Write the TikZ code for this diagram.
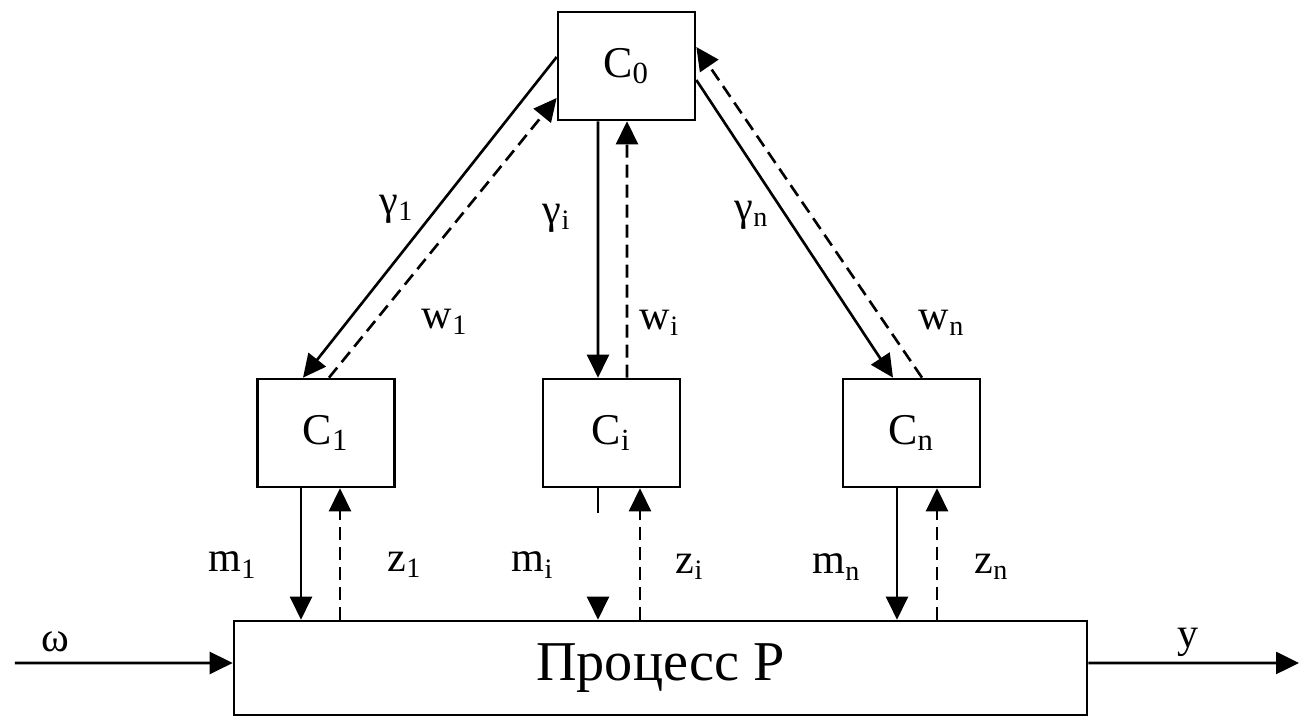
\documentclass[tikz,border=0pt]{standalone}
\usepackage{fontspec}
\setmainfont{Liberation Serif}
\usetikzlibrary{arrows.meta}

\begin{document}
\begin{tikzpicture}[line width=0.75pt,
  ctl/.style={draw, inner sep=0pt, minimum width=1.37cm, minimum height=1.08cm,
        font=\fontsize{12.5}{14}\selectfont},
  proc/.style={draw, inner sep=0pt, minimum width=8.53cm, minimum height=0.94cm,
        font=\fontsize{16}{18}\selectfont},
  lab/.style={inner sep=1pt, font=\fontsize{12}{14}\selectfont},
  sig/.style={-{Triangle[length=0.23cm, width=0.22cm]}},
  fb/.style={sig, dash pattern=on 0.13cm off 0.07cm},
]
  \useasboundingbox (0,0) rectangle (13.01,-7.17);
  % blocks
  \node[ctl] (c0) at (6.265,-0.66) {C\textsubscript{0}};
  \node[ctl] (c1) at (3.26,-4.33) {C\textsubscript{1}};
  \node[ctl] (ci) at (6.115,-4.33) {C\textsubscript{i}};
  \node[ctl] (cn) at (9.115,-4.33) {C\textsubscript{n}};
  \node[proc] (p) at (6.605,-6.68) {Процесс P};
  \coordinate (win) at (0.15,-6.63);
  \coordinate (yout) at (12.99,-6.63);
  % upper level: tasks down, reports up
  \draw[sig] ([yshift=0.09cm]c0.west) -- ([xshift=-0.23cm]c1.north);
  \draw[fb] ([xshift=0.03cm]c1.north) -- ([yshift=-0.32cm]c0.west);
  \draw[sig] ([xshift=-0.285cm]c0.south) -- ([xshift=-0.135cm]ci.north);
  \draw[fb] ([xshift=0.155cm]ci.north) -- ([xshift=0.005cm]c0.south);
  \draw[sig] ([yshift=-0.14cm]c0.east) -- ([xshift=-0.185cm]cn.north);
  \draw[fb] ([xshift=0.105cm]cn.north) -- ([yshift=0.19cm]c0.east);
  % lower level: controls and measurements
  \draw[sig] ([xshift=-0.25cm]c1.south) -- ([xshift=-0.25cm]c1.south |- p.north);
  \draw[fb] ([xshift=0.14cm]c1.south |- p.north) -- ([xshift=0.14cm]c1.south);
  \draw[sig, dash pattern=on 0.25cm off 2cm] ([xshift=-0.135cm]ci.south) -- ([xshift=-0.135cm]ci.south |- p.north);
  \draw[fb] ([xshift=0.285cm]ci.south |- p.north) -- ([xshift=0.285cm]ci.south);
  \draw[sig] ([xshift=-0.145cm]cn.south) -- ([xshift=-0.145cm]cn.south |- p.north);
  \draw[fb] ([xshift=0.255cm]cn.south |- p.north) -- ([xshift=0.255cm]cn.south);
  % input and output
  \draw[sig] (win) -- ([yshift=0.05cm]p.west);
  \draw[sig] ([yshift=0.05cm]p.east) -- (yout);
  % labels
  \node[lab] (g1) at (3.97,-2.09) {γ\textsubscript{1}};
  \node[lab] (gi) at (5.57,-2.18) {γ\textsubscript{i}};
  \node[lab] (gn) at (7.52,-2.15) {γ\textsubscript{n}};
  \node[lab] (w1) at (4.45,-3.22) {w\textsubscript{1}};
  \node[lab] (wi) at (6.60,-3.23) {w\textsubscript{i}};
  \node[lab] (wn) at (9.42,-3.23) {w\textsubscript{n}};
  \node[lab] (m1) at (2.33,-5.65) {m\textsubscript{1}};
  \node[lab] (z1) at (4.05,-5.65) {z\textsubscript{1}};
  \node[lab] (mi) at (5.33,-5.65) {m\textsubscript{i}};
  \node[lab] (zi) at (6.90,-5.67) {z\textsubscript{i}};
  \node[lab] (mn) at (8.37,-5.67) {m\textsubscript{n}};
  \node[lab] (zn) at (9.92,-5.67) {z\textsubscript{n}};
  \node[lab] (om) at (0.55,-6.42) {ω};
  \node[lab] (yl) at (11.88,-6.42) {y};
\end{tikzpicture}
\end{document}
